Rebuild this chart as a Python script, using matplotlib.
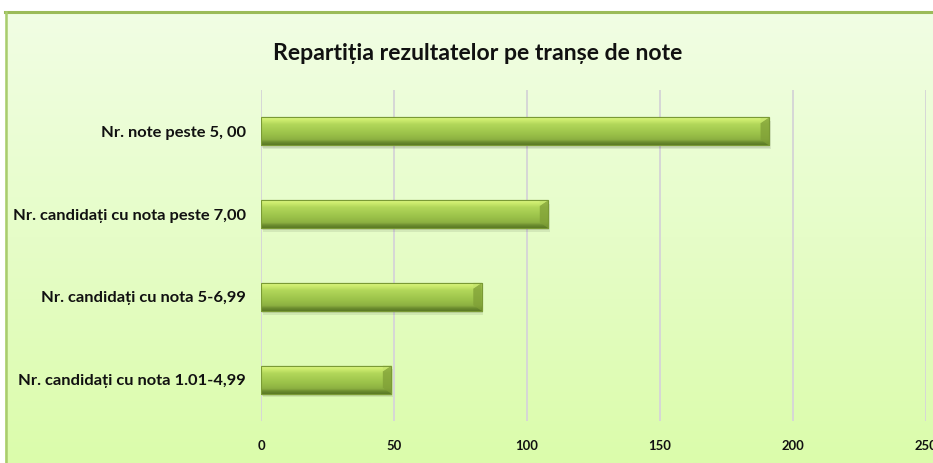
import numpy as np
import matplotlib
matplotlib.use("Agg")
import matplotlib.pyplot as plt
from matplotlib.colors import LinearSegmentedColormap
from matplotlib.patches import Rectangle

# ---- data ----
categories = [
    "Nr. candidați cu nota 1.01-4,99",
    "Nr. candidați cu nota 5-6,99",
    "Nr. candidați cu nota peste 7,00",
    "Nr. note peste 5, 00",
]
values = [49, 83, 108, 191]
xticks = [0, 50, 100, 150, 200, 250]
title = "Repartiția rezultatelor pe tranșe de note"

FONT = ["Lato", "DejaVu Sans"]
TXT = "#111111"

W, H = 933, 463
fig = plt.figure(figsize=(W / 100, H / 100), dpi=100)
fig.patch.set_facecolor("white")

bg = fig.add_axes([5 / W, 0, 1 - 5 / W, (H - 12) / H], zorder=0)
grad = np.linspace(0, 1, 256).reshape(-1, 1)
bgcmap = LinearSegmentedColormap.from_list("bg", ["#f1fee4", "#e6fdc8", "#dbfcab"])
bg.imshow(grad, aspect="auto", cmap=bgcmap, extent=[0, 1, 0, 1], origin="upper")
bg.set_xlim(0, 1)
bg.set_ylim(0, 1)
bg.axis("off")
fig.add_artist(plt.Line2D([5 / W, 1], [1 - 12 / H, 1 - 12 / H], color="#9bbb59", lw=2.2, zorder=1))
fig.add_artist(plt.Line2D([6 / W, 6 / W], [0, 1 - 12 / H], color="#a9cc6e", lw=1.8, zorder=1))

ax = fig.add_axes([261 / W, (H - 421) / H, 665 / W, 331 / H], zorder=2)
ax.patch.set_alpha(0)
y = np.arange(len(categories))
bh = 0.34

ax.barh(y - 0.045, values, height=bh, left=0.6, color="#000000", alpha=0.08, zorder=2, linewidth=0)
ax.barh(y - 0.025, values, height=bh, left=0.3, color="#000000", alpha=0.08, zorder=2, linewidth=0)

bars = ax.barh(y, values, height=bh, color="#9bbf4a", edgecolor="#7a9a35", linewidth=0.8, zorder=3)

barcmap = LinearSegmentedColormap.from_list(
    "bar", [(0.0, "#e4fb9c"), (0.1, "#d2f072"), (0.28, "#b2d75a"),
            (0.6, "#9cc34a"), (0.82, "#8cb041"), (0.9, "#6e8f30"), (1.0, "#5a7925")])
vgrad = np.linspace(0, 1, 64).reshape(-1, 1)
for b, yy, v in zip(bars, y, values):
    im = ax.imshow(vgrad, aspect="auto", cmap=barcmap, origin="upper",
                   extent=[0, v, yy - bh / 2, yy + bh / 2], zorder=3.5, interpolation="bilinear")
    im.set_clip_path(b)
    cap_w = 3.2
    ax.fill([v - cap_w, v, v, v - cap_w], [yy + bh / 2 - 0.07, yy + bh / 2, yy - bh / 2, yy - bh / 2 + 0.07],
            color="#7f9f36", alpha=0.75, zorder=3.6, linewidth=0)
    ax.fill([v - cap_w, v, v - cap_w], [yy + bh / 2 - 0.07, yy + bh / 2, yy + bh / 2], color="#c0e26a",
            alpha=0.6, zorder=3.7, linewidth=0)
    ax.add_patch(Rectangle((0, yy - bh / 2), v, bh, fill=False, edgecolor="#7a9a35", lw=0.8, zorder=3.8))

ax.set_xlim(0, 250)
ax.set_ylim(-0.5, len(categories) - 0.5)
ax.set_xticks(xticks)
ax.set_xticklabels([str(t) for t in xticks])
ax.set_yticks(y)
ax.set_yticklabels(categories)
ax.grid(axis="x", color="#d6d6d6", lw=1.4, zorder=1)
ax.set_axisbelow(True)
for s in ax.spines.values():
    s.set_visible(False)
ax.tick_params(axis="both", length=0)
ax.tick_params(axis="y", pad=10.8)
ax.tick_params(axis="x", pad=14.0)
for lab in ax.get_yticklabels() + ax.get_xticklabels():
    lab.set_fontfamily(FONT)
    lab.set_fontweight("bold")
    lab.set_color(TXT)

ttl = fig.text(477.5 / W, 1 - 53 / H, title, ha="center", va="center",
               fontfamily=FONT, fontweight="bold", color=TXT, fontsize=15)

def fit(texts, target_px, size0):
    for t in texts:
        t.set_fontsize(size0)
    fig.canvas.draw()
    r = fig.canvas.get_renderer()
    w = texts[0].get_window_extent(r).width
    s = size0 * target_px / w
    for t in texts:
        t.set_fontsize(s)
    return s

fit([ttl], 411, 15)
ylabs = ax.get_yticklabels()
fit([ylabs[2]] + [l for i, l in enumerate(ylabs) if i != 2], 233, 11)
xlabs = ax.get_xticklabels()
fit([xlabs[2]] + [l for i, l in enumerate(xlabs) if i != 2], 23, 10)

fig.savefig("out.png", dpi=100, facecolor="white")
